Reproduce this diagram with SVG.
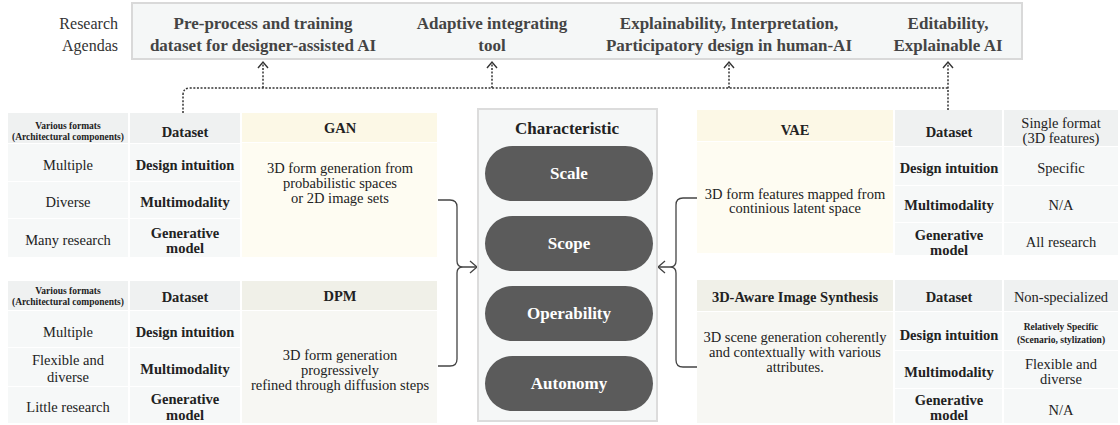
<svg xmlns="http://www.w3.org/2000/svg" width="1120" height="425" viewBox="0 0 1120 425">
<defs>
<style>
text{font-family:"Liberation Serif","Times New Roman",serif;fill:#222;}
.b{font-weight:bold;}
.c{text-anchor:middle;}
.t{font-size:14.5px;}
.s{font-size:9.5px;font-weight:bold;}
.h{font-size:17px;font-weight:bold;fill:#444;text-anchor:middle;}
.hd{fill:#eff1f1;}
.rw{fill:#f6f8f8;}
.gh{fill:#fcf8e6;}
.gb{fill:#fefcf2;}
.dh{fill:#f0f0e8;}
.db{fill:#f7f7f3;}
.pill{fill:#5b5b5b;}
.pt{font-size:17px;font-weight:bold;fill:#fff;text-anchor:middle;}
.dot{fill:none;stroke:#333;stroke-width:1.5;stroke-dasharray:2 1.6;}
.ah{fill:none;stroke:#333;stroke-width:1.4;}
.br{fill:none;stroke:#444;stroke-width:1.3;}
</style>
</defs>

<g id="research-agendas">
<text x="118" y="29" text-anchor="end" style="font-size:16px;fill:#333">Research</text>
<text x="118" y="51" text-anchor="end" style="font-size:16px;fill:#333">Agendas</text>
<rect x="132" y="3" width="890" height="56" fill="#f5f7f7" stroke="#d9d9d9" stroke-width="2"/>
<text class="h" x="263" y="29">Pre-process and training</text>
<text class="h" x="263" y="51">dataset for designer-assisted AI</text>
<text class="h" x="492" y="29">Adaptive integrating</text>
<text class="h" x="492" y="51">tool</text>
<text class="h" x="729" y="29">Explainability, Interpretation,</text>
<text class="h" x="729" y="51">Participatory design in human-AI</text>
<text class="h" x="948" y="29">Editability,</text>
<text class="h" x="948" y="51">Explainable AI</text>
</g>

<g id="connectors">
<path class="dot" d="M183,113 V95 Q183,88 190,88 H948"/>
<path class="dot" d="M948,110 V63"/>
<path class="dot" d="M263,88 V63"/>
<path class="dot" d="M492,88 V63"/>
<path class="dot" d="M729,88 V63"/>
<path class="ah" d="M258,68 L263,62 L268,68"/>
<path class="ah" d="M487,68 L492,62 L497,68"/>
<path class="ah" d="M724,68 L729,62 L734,68"/>
<path class="ah" d="M943,68 L948,62 L953,68"/>
<path class="br" d="M438,200 H450 Q457,200 457,207 V261 Q457,267 463,267 M438,366 H450 Q457,366 457,359 V273 Q457,267 463,267 H477"/>
<path class="br" d="M470,261 L477,267 L470,273"/>
<path class="br" d="M697,198 H683 Q676,198 676,205 V261 Q676,267 670,267 M697,367 H683 Q676,367 676,360 V273 Q676,267 670,267 H658"/>
<path class="br" d="M665,261 L658,267 L665,273"/>
</g>

<g id="gan-table">
<rect class="hd" x="8" y="113" width="120" height="30"/>
<rect class="hd" x="130" y="113" width="110" height="30"/>
<rect class="rw" x="8" y="144" width="120" height="37"/>
<rect class="rw" x="130" y="144" width="110" height="37"/>
<rect class="rw" x="8" y="182" width="120" height="36"/>
<rect class="rw" x="130" y="182" width="110" height="36"/>
<rect class="rw" x="8" y="219" width="120" height="38"/>
<rect class="rw" x="130" y="219" width="110" height="38"/>
<text class="s c" x="68" y="129">Various formats</text>
<text class="s c" x="68" y="140">(Architectural components)</text>
<text class="t b c" x="185" y="137">Dataset</text>
<text class="t c" x="68" y="170">Multiple</text>
<text class="t b c" x="185" y="170">Design intuition</text>
<text class="t c" x="68" y="207">Diverse</text>
<text class="t b c" x="185" y="207">Multimodality</text>
<text class="t c" x="68" y="245">Many research</text>
<text class="t b c" x="185" y="238">Generative</text>
<text class="t b c" x="185" y="253">model</text>
</g>

<g id="gan">
<rect class="gh" x="242" y="113" width="195" height="29"/>
<rect class="gb" x="242" y="143" width="195" height="114"/>
<text class="t b c" x="340" y="133">GAN</text>
<text class="t c" x="340" y="173">3D form generation from</text>
<text class="t c" x="340" y="188">probabilistic spaces</text>
<text class="t c" x="340" y="203">or 2D image sets</text>
</g>

<g id="dpm-table">
<rect class="hd" x="8" y="281" width="120" height="29"/>
<rect class="hd" x="130" y="281" width="110" height="29"/>
<rect class="rw" x="8" y="311" width="120" height="36"/>
<rect class="rw" x="130" y="311" width="110" height="36"/>
<rect class="rw" x="8" y="348" width="120" height="38"/>
<rect class="rw" x="130" y="348" width="110" height="38"/>
<rect class="rw" x="8" y="387" width="120" height="36"/>
<rect class="rw" x="130" y="387" width="110" height="36"/>
<text class="s c" x="68" y="294">Various formats</text>
<text class="s c" x="68" y="305">(Architectural components)</text>
<text class="t b c" x="185" y="302">Dataset</text>
<text class="t c" x="68" y="337">Multiple</text>
<text class="t b c" x="185" y="337">Design intuition</text>
<text class="t c" x="68" y="365">Flexible and</text>
<text class="t c" x="68" y="382">diverse</text>
<text class="t b c" x="185" y="374">Multimodality</text>
<text class="t c" x="68" y="412">Little research</text>
<text class="t b c" x="185" y="404">Generative</text>
<text class="t b c" x="185" y="420">model</text>
</g>

<g id="dpm">
<rect class="dh" x="242" y="281" width="195" height="29"/>
<rect class="db" x="242" y="311" width="195" height="112"/>
<text class="t b c" x="340" y="301">DPM</text>
<text class="t c" x="340" y="360">3D form generation</text>
<text class="t c" x="340" y="375">progressively</text>
<text class="t c" x="340" y="390">refined through diffusion steps</text>
</g>

<g id="characteristic">
<rect x="478" y="109" width="179" height="312" fill="#f5f7f7" stroke="#dcdcdc" stroke-width="2"/>
<text class="b c" x="567" y="134" style="font-size:17px">Characteristic</text>
<rect class="pill" x="485" y="146" width="168" height="55" rx="27.5"/>
<text class="pt" x="569" y="179">Scale</text>
<rect class="pill" x="485" y="216" width="168" height="55" rx="27.5"/>
<text class="pt" x="569" y="249">Scope</text>
<rect class="pill" x="485" y="286" width="168" height="55" rx="27.5"/>
<text class="pt" x="569" y="319">Operability</text>
<rect class="pill" x="485" y="356" width="168" height="55" rx="27.5"/>
<text class="pt" x="569" y="389">Autonomy</text>
</g>

<g id="vae">
<rect class="gh" x="697" y="110" width="196" height="31"/>
<rect class="gb" x="697" y="142" width="196" height="111"/>
<text class="t b c" x="795" y="135">VAE</text>
<text class="t c" x="795" y="199">3D form features mapped from</text>
<text class="t c" x="795" y="213">continious latent space</text>
</g>

<g id="vae-table">
<rect class="hd" x="895" y="110" width="107" height="36"/>
<rect class="hd" x="1004" y="110" width="114" height="36"/>
<rect class="rw" x="895" y="147" width="107" height="38"/>
<rect class="rw" x="1004" y="147" width="114" height="38"/>
<rect class="rw" x="895" y="186" width="107" height="36"/>
<rect class="rw" x="1004" y="186" width="114" height="36"/>
<rect class="rw" x="895" y="223" width="107" height="32"/>
<rect class="rw" x="1004" y="223" width="114" height="32"/>
<text class="t b c" x="949" y="137">Dataset</text>
<text class="t c" x="1061" y="128">Single format</text>
<text class="t c" x="1061" y="143">(3D features)</text>
<text class="t b c" x="949" y="173">Design intuition</text>
<text class="t c" x="1061" y="173">Specific</text>
<text class="t b c" x="949" y="210">Multimodality</text>
<text class="t c" x="1061" y="210">N/A</text>
<text class="t b c" x="949" y="240">Generative</text>
<text class="t b c" x="949" y="255">model</text>
<text class="t c" x="1061" y="247">All research</text>
</g>

<g id="aware">
<rect class="dh" x="697" y="280" width="196" height="31"/>
<rect class="db" x="697" y="312" width="196" height="111"/>
<text class="t b c" x="795" y="302">3D-Aware Image Synthesis</text>
<text class="t c" x="795" y="342">3D scene generation coherently</text>
<text class="t c" x="795" y="357">and contextually with various</text>
<text class="t c" x="795" y="372">attributes.</text>
</g>

<g id="aware-table">
<rect class="hd" x="895" y="280" width="107" height="31"/>
<rect class="hd" x="1004" y="280" width="114" height="31"/>
<rect class="rw" x="895" y="312" width="107" height="38"/>
<rect class="rw" x="1004" y="312" width="114" height="38"/>
<rect class="rw" x="895" y="351" width="107" height="37"/>
<rect class="rw" x="1004" y="351" width="114" height="37"/>
<rect class="rw" x="895" y="389" width="107" height="34"/>
<rect class="rw" x="1004" y="389" width="114" height="34"/>
<text class="t b c" x="949" y="302">Dataset</text>
<text class="t c" x="1061" y="302">Non-specialized</text>
<text class="t b c" x="949" y="340">Design intuition</text>
<text class="s c" x="1061" y="330">Relatively Specific</text>
<text class="s c" x="1061" y="343">(Scenario, stylization)</text>
<text class="t b c" x="949" y="377">Multimodality</text>
<text class="t c" x="1061" y="369">Flexible and</text>
<text class="t c" x="1061" y="384">diverse</text>
<text class="t b c" x="949" y="405">Generative</text>
<text class="t b c" x="949" y="420">model</text>
<text class="t c" x="1061" y="415">N/A</text>
</g>
</svg>
